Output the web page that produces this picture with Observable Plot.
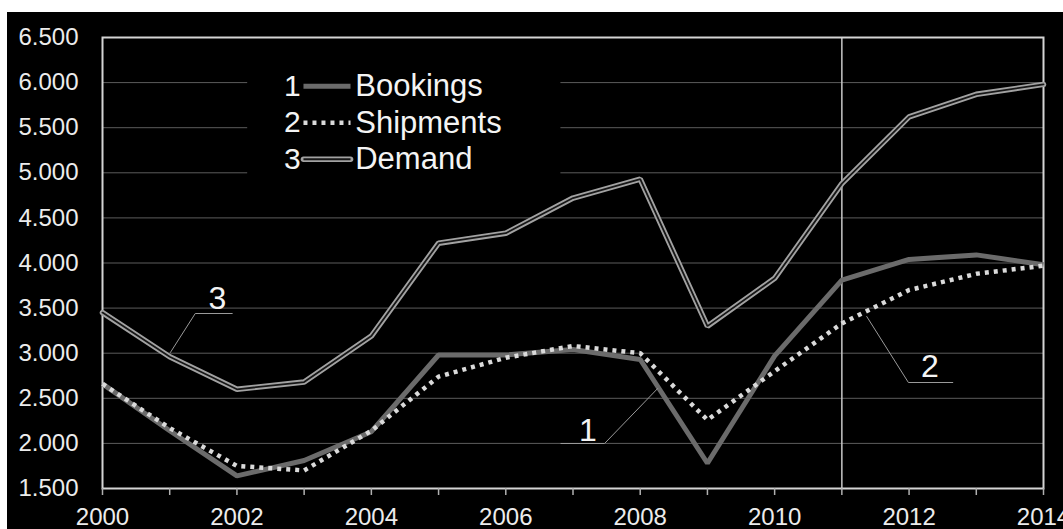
<!DOCTYPE html>
<html><head><meta charset="utf-8">
<script src="https://cdn.jsdelivr.net/npm/d3@7"></script>
<script src="https://cdn.jsdelivr.net/npm/@observablehq/plot@0.6"></script>
<style>
html,body{margin:0;padding:0;background:#fff;overflow:hidden;}
#chart{position:absolute;left:7px;top:12px;width:1056px;height:517px;background:#000;overflow:hidden;}
</style></head><body><div id="chart"></div>
<script>
// ---- data ----
const years = [2000,2001,2002,2003,2004,2005,2006,2007,2008,2009,2010,2011,2012,2013,2014];
const bookings  = [2660,2140,1640,1810,2130,2980,2980,3040,2930,1780,2970,3810,4040,4090,3980];
const shipments = [2660,2170,1750,1700,2140,2740,2950,3080,3000,2260,2800,3330,3700,3880,3970];
const demand    = [3450,2960,2600,2680,3190,4220,4330,4720,4930,3300,3830,4880,5620,5870,5980];
const seriesNames   = ["Bookings","Shipments","Demand"];
const seriesNumbers = ["1","2","3"];
const yTicks      = [1500,2000,2500,3000,3500,4000,4500,5000,5500,6000,6500];
const yTickLabels = ["1.500","2.000","2.500","3.000","3.500","4.000","4.500","5.000","5.500","6.000","6.500"];
const xTickLabels = ["2000","","2002","","2004","","2006","","2008","","2010","","2012","","2014"];
const forecastStartYear = 2011;

// ---- annotation placement (data units) ----
const annoLabels = [
  {text:"3", year:2001.71, value:3606},
  {text:"1", year:2007.22, value:2143},
  {text:"2", year:2012.31, value:2852}
];
const annoLeaders = [
  {id:"3", pts:[[2001.01,3008],[2001.38,3440],[2001.93,3440]]},
  {id:"1", pts:[[2008.26,2609],[2007.47,1999],[2006.82,1999]]},
  {id:"2", pts:[[2011.37,3407],[2011.99,2675],[2012.65,2675]]}
];
// legend placement (data units)
const legendNumYear = 2002.95, legendLineX1 = 2002.99, legendLineX2 = 2003.69, legendTextYear = 2003.76;
const legendRowValues = [5960, 5555, 5150];
const legendBox = {x1:2002.16, x2:2006.82, y1:4860, y2:6360};

const rows = s => years.map((y,i)=>({year:y, value:s[i]}));
const B = rows(bookings), S = rows(shipments), D = rows(demand);
const legendRows = seriesNames.map((n,i)=>({num:seriesNumbers[i], name:n, value:legendRowValues[i]}));
const leaderPts = annoLeaders.flatMap(a=>a.pts.map(p=>({id:a.id, year:p[0], value:p[1]})));

const font = "'Liberation Sans', Arial, sans-serif";
const txt = "#ececec";

const plot = Plot.plot({
  width:1056, height:517,
  marginLeft:95, marginTop:25, marginRight:20, marginBottom:41,
  style:{background:"#000", color:txt, fontFamily:font, fontSize:"24px"},
  x:{domain:[2000,2014], label:null},
  y:{domain:[1500,6500], label:null},
  marks:[
    Plot.ruleY(yTicks.slice(1,-1), {stroke:"#5c5c5c", strokeWidth:1}),
    Plot.rect([legendBox], {x1:"x1", x2:"x2", y1:"y1", y2:"y2", fill:"#000"}),
    Plot.ruleX([forecastStartYear], {stroke:"#c8c8c8", strokeWidth:1.5}),
    Plot.frame({stroke:"#d4d4d4", strokeWidth:2}),
    Plot.axisX({ticks:years, tickSize:7, tickPadding:12, label:null,
      tickFormat:d=>xTickLabels[years.indexOf(d)], stroke:"#b0b0b0", strokeWidth:1.5, fill:txt, fontSize:24}),
    Plot.axisY({ticks:yTicks, tickSize:0, tickPadding:24, label:null,
      tickFormat:d=>yTickLabels[yTicks.indexOf(d)], fill:txt, fontSize:24}),
    // Demand (double line)
    Plot.line(D, {x:"year", y:"value", stroke:"#a2a2a2", strokeWidth:5.5, strokeLinejoin:"miter"}),
    Plot.line(D, {x:"year", y:"value", stroke:"#161616", strokeWidth:1.8, strokeLinejoin:"miter"}),
    // Bookings
    Plot.line(B, {x:"year", y:"value", stroke:"#6b6b6b", strokeWidth:5, strokeLinejoin:"miter", strokeLinecap:"butt"}),
    // Shipments
    Plot.line(S, {x:"year", y:"value", stroke:"#dadada", strokeWidth:4.5, strokeDasharray:"4,5", strokeLinecap:"butt", strokeLinejoin:"miter"}),
    // leaders
    Plot.line(leaderPts, {x:"year", y:"value", z:"id", stroke:"#9a9a9a", strokeWidth:1}),
    Plot.text(annoLabels, {x:"year", y:"value", text:"text", fill:"#f4f4f4", fontSize:32}),
    // legend
    Plot.text(legendRows, {x:legendNumYear, y:"value", text:"num", textAnchor:"end", fill:"#f4f4f4", fontSize:30}),
    Plot.text(legendRows, {x:legendTextYear, y:"value", text:"name", textAnchor:"start", fill:"#f4f4f4", fontSize:31}),
    Plot.link([legendRows[0]], {x1:legendLineX1, x2:legendLineX2, y1:"value", y2:"value", stroke:"#6b6b6b", strokeWidth:5, strokeLinecap:"butt"}),
    Plot.link([legendRows[1]], {x1:legendLineX1, x2:legendLineX2, y1:"value", y2:"value", stroke:"#dadada", strokeWidth:4.5, strokeDasharray:"4,5", strokeLinecap:"butt"}),
    Plot.link([legendRows[2]], {x1:legendLineX1, x2:legendLineX2, y1:"value", y2:"value", stroke:"#a2a2a2", strokeWidth:5.5, strokeLinecap:"round"}),
    Plot.link([legendRows[2]], {x1:legendLineX1, x2:legendLineX2, y1:"value", y2:"value", stroke:"#161616", strokeWidth:1.8, strokeLinecap:"butt"})
  ]
});
document.getElementById("chart").appendChild(plot);
</script></body></html>
